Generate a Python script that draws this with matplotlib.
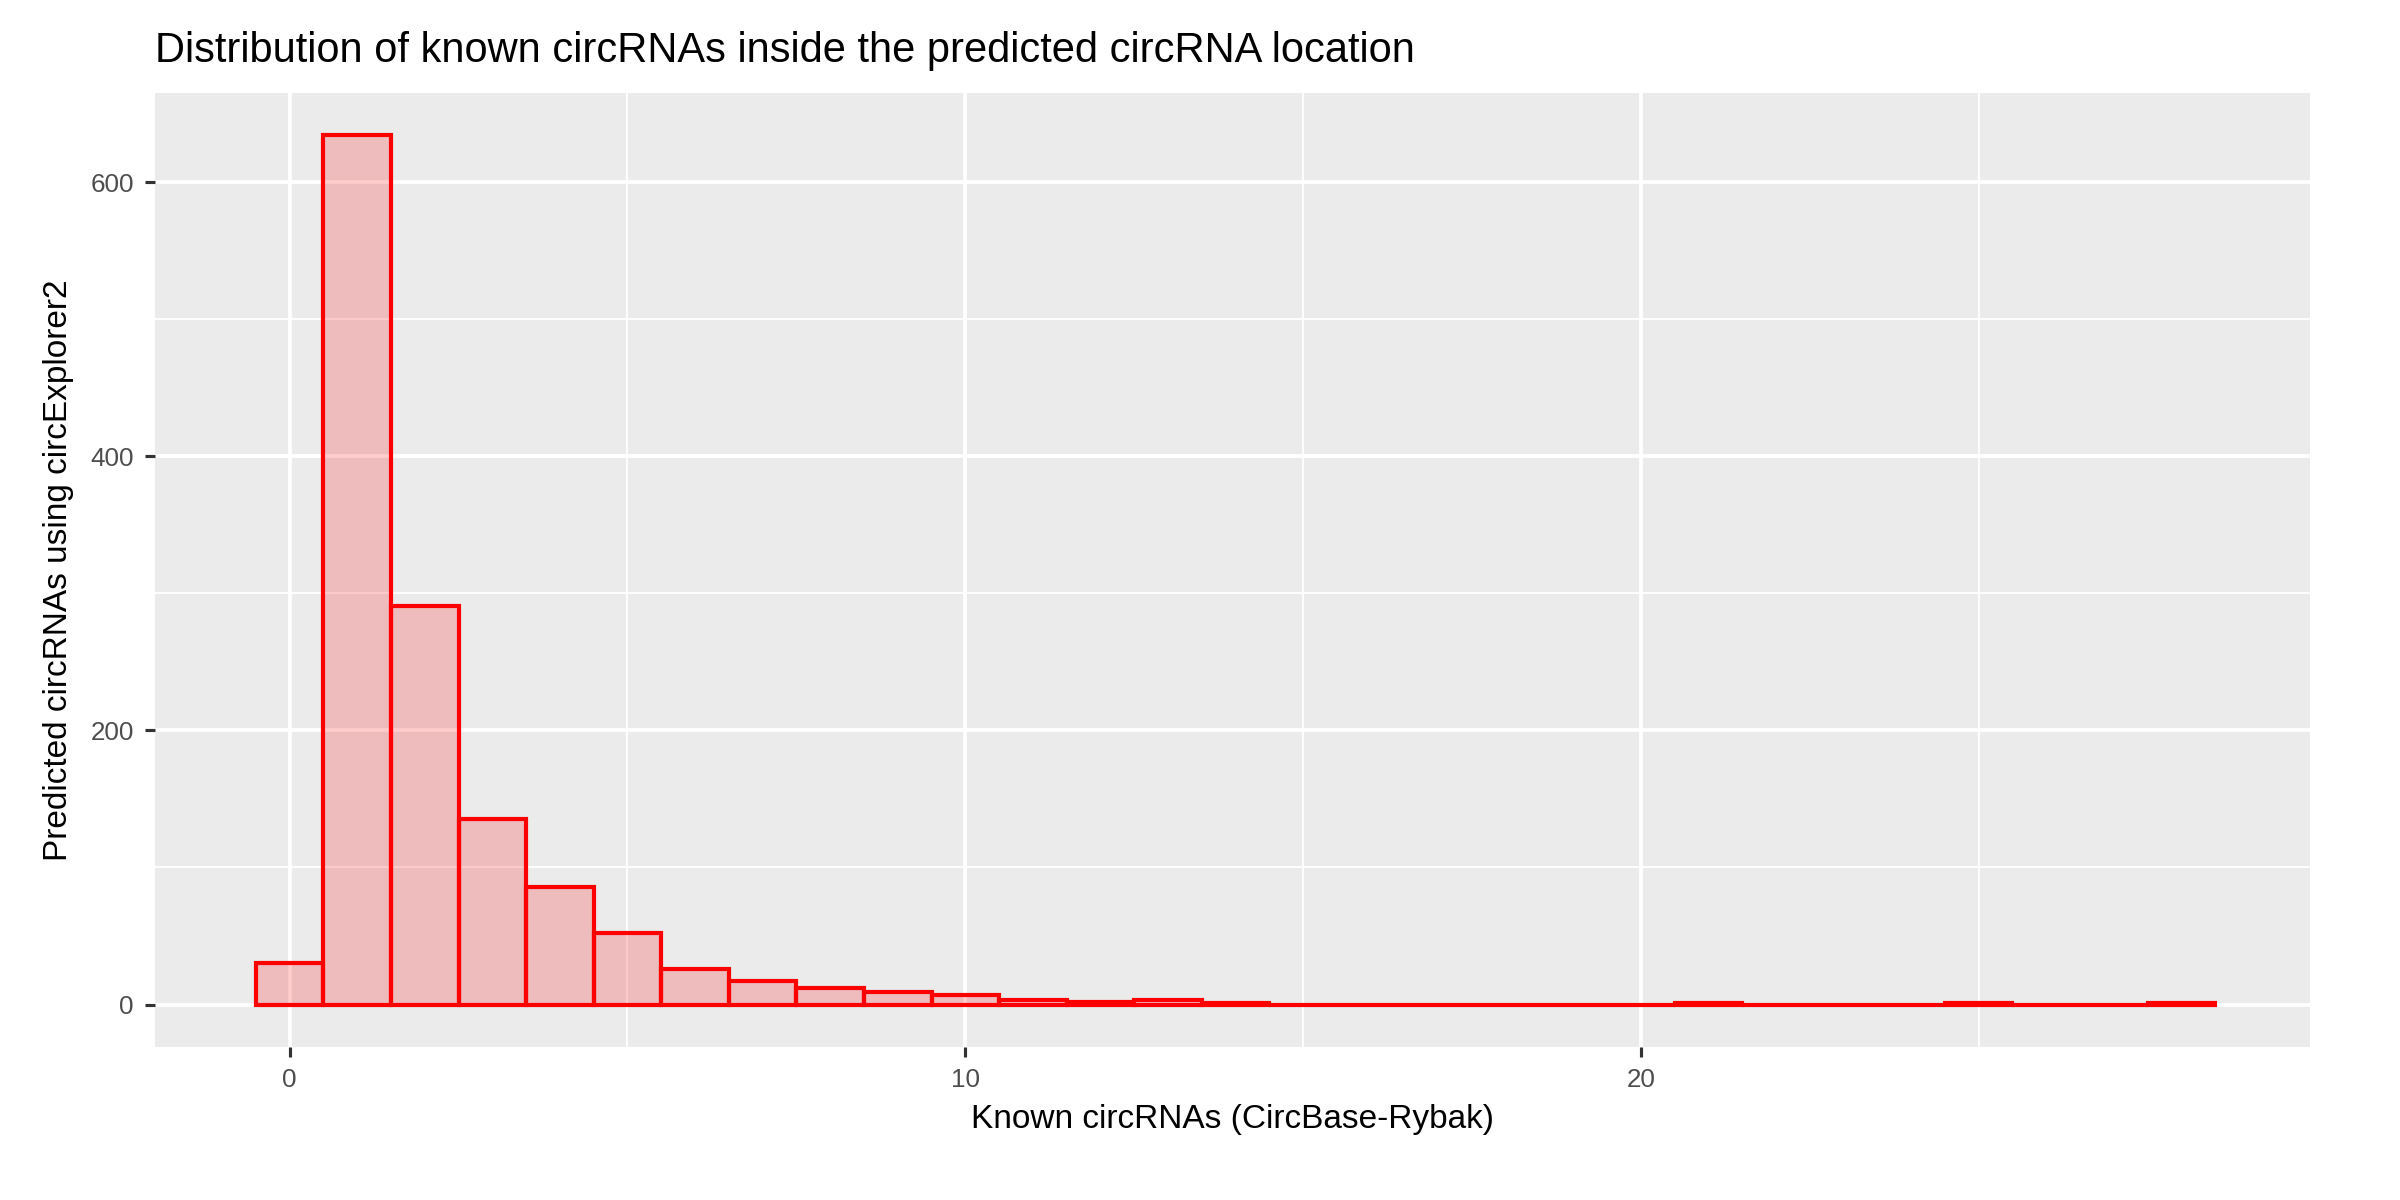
import matplotlib
matplotlib.use("Agg")
import matplotlib.pyplot as plt
import numpy as np

bin_centers = list(range(0, 29))
counts = [30, 634, 291, 135, 86, 52, 26, 17, 12, 9, 7, 3, 2, 3, 1, 0, 0, 0, 0, 0, 0, 1, 0, 0, 0, 1, 0, 0, 1]

plt.rcParams['font.family'] = ['Liberation Sans', 'DejaVu Sans']
fig = plt.figure(figsize=(16, 8), dpi=150)
ax = fig.add_axes([0.0644, 0.1275, 0.898, 0.795])
ax.set_facecolor('#EBEBEB')
ax.bar(bin_centers, counts, width=1.0, color=(1, 0, 0, 0.2), edgecolor='red', linewidth=2.0, zorder=3)
ax.set_xlim(-2.0, 29.9)
ax.set_ylim(-31, 665)
ax.set_xticks([0, 10, 20])
ax.set_xticks([5, 15, 25], minor=True)
ax.set_yticks([0, 200, 400, 600])
ax.set_yticks([100, 300, 500], minor=True)
ax.grid(which='major', color='white', linewidth=1.8, zorder=0)
ax.grid(which='minor', color='white', linewidth=0.9, zorder=0)
for s in ax.spines.values():
    s.set_visible(False)
ax.tick_params(which='major', length=5, width=1.5, color='#333333', labelsize=12.5, labelcolor='#4D4D4D', pad=5)
ax.tick_params(which='minor', length=0)
ax.set_xlabel('Known circRNAs (CircBase-Rybak)', fontsize=16, labelpad=6)
ax.set_ylabel('Predicted circRNAs using circExplorer2', fontsize=16, labelpad=8)
fig.text(0.0644, 0.948, 'Distribution of known circRNAs inside the predicted circRNA location', fontsize=20)
fig.savefig('out.png', dpi=150)
